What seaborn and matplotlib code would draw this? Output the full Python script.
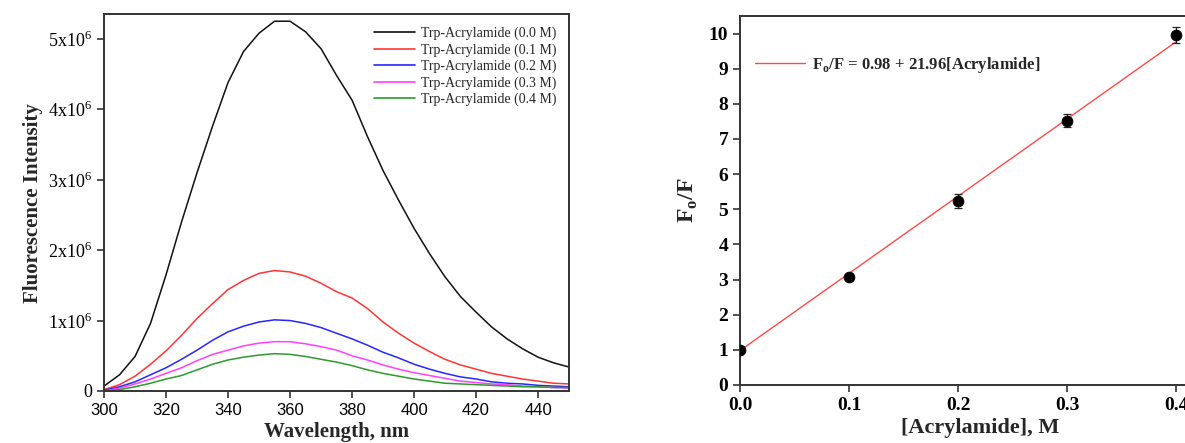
import numpy as np
import pandas as pd
import matplotlib
matplotlib.use('Agg')
import matplotlib.pyplot as plt
import seaborn as sns

sns.set_theme(style='ticks')
plt.rcParams['font.family'] = ['Liberation Serif', 'DejaVu Serif']
plt.rcParams['mathtext.fontset'] = 'custom'
plt.rcParams['mathtext.rm'] = 'Liberation Serif'
plt.rcParams['mathtext.bf'] = 'Liberation Serif:bold'
plt.rcParams['axes.edgecolor'] = '#333333'
plt.rcParams['axes.linewidth'] = 1.4

# spectra, values in units of 1e6
wavelength = [300, 305, 310, 315, 320, 325, 330, 335, 340, 345, 350, 355, 360, 365, 370,
              375, 380, 385, 390, 395, 400, 405, 410, 415, 420, 425, 430, 435, 440, 445, 450]
trp_00 = [0.07, 0.23, 0.49, 0.96, 1.65, 2.40, 3.10, 3.76, 4.38, 4.82, 5.08, 5.25, 5.25, 5.10, 4.86,
          4.48, 4.13, 3.61, 3.13, 2.71, 2.31, 1.95, 1.62, 1.34, 1.12, 0.91, 0.74, 0.60, 0.48, 0.40, 0.34]
trp_01 = [0.02, 0.09, 0.21, 0.38, 0.57, 0.79, 1.03, 1.24, 1.44, 1.57, 1.67, 1.71, 1.69, 1.63, 1.53,
          1.41, 1.32, 1.17, 0.98, 0.82, 0.68, 0.56, 0.45, 0.37, 0.31, 0.25, 0.21, 0.17, 0.14, 0.11, 0.10]
trp_02 = [0.01, 0.06, 0.13, 0.23, 0.33, 0.45, 0.58, 0.72, 0.84, 0.92, 0.98, 1.01, 1.00, 0.96, 0.90,
          0.82, 0.74, 0.65, 0.55, 0.47, 0.38, 0.31, 0.25, 0.20, 0.17, 0.13, 0.11, 0.10, 0.08, 0.07, 0.06]
trp_03 = [0.00, 0.04, 0.10, 0.17, 0.25, 0.33, 0.43, 0.52, 0.58, 0.64, 0.68, 0.70, 0.70, 0.67, 0.63,
          0.58, 0.50, 0.44, 0.37, 0.31, 0.26, 0.22, 0.18, 0.14, 0.12, 0.10, 0.09, 0.07, 0.06, 0.05, 0.04]
trp_04 = [0.00, 0.02, 0.06, 0.11, 0.17, 0.22, 0.30, 0.38, 0.44, 0.48, 0.51, 0.53, 0.52, 0.49, 0.45,
          0.41, 0.36, 0.30, 0.25, 0.21, 0.17, 0.14, 0.11, 0.10, 0.09, 0.08, 0.07, 0.06, 0.06, 0.05, 0.05]
series_names = ['Trp-Acrylamide (0.0 M)', 'Trp-Acrylamide (0.1 M)', 'Trp-Acrylamide (0.2 M)',
                'Trp-Acrylamide (0.3 M)', 'Trp-Acrylamide (0.4 M)']
series_colors = ['#111111', '#ff3535', '#2525ff', '#ff40ff', '#2e9a2e']

# Stern-Volmer data
conc = [0.0, 0.1, 0.2, 0.3, 0.4]
f0_f = [1.0, 3.08, 5.24, 7.52, 9.96]
f0_f_err = [0.04, 0.06, 0.2, 0.18, 0.22]
intercept = 0.98
slope = 21.96

spec = pd.DataFrame({'Wavelength': wavelength * 5,
                     'Intensity': np.array(trp_00 + trp_01 + trp_02 + trp_03 + trp_04) * 1e6,
                     'Sample': np.repeat(series_names, len(wavelength))})

fig = plt.figure(figsize=(11.85, 4.43), dpi=100)
ax1 = fig.add_axes([0.0878, 0.1174, 0.3924, 0.8506])
ax2 = fig.add_axes([0.6245, 0.131, 0.4047, 0.833])

# left: emission spectra
sns.lineplot(data=spec, x='Wavelength', y='Intensity', hue='Sample', hue_order=series_names,
             palette=series_colors, linewidth=1.1, ax=ax1)
ax1.set_xlim(300, 450)
ax1.set_ylim(0, 5.35e6)
ax1.set_xticks([300, 320, 340, 360, 380, 400, 420, 440],
               ['300', '320', '340', '360', '380', '400', '420', '440'],
               fontfamily='Liberation Sans', fontsize=12)
ax1.set_yticks([0, 1e6, 2e6, 3e6, 4e6, 5e6],
               ['0'] + [f'{i}x10$^{{\\mathrm{{6}}}}$' for i in range(1, 6)], fontsize=13)
ax1.set_xlabel('Wavelength, nm', fontsize=15, fontweight='bold', labelpad=3)
ax1.set_ylabel('Fluorescence Intensity', fontsize=15, fontweight='bold', labelpad=4)
ax1.tick_params(direction='out', length=5, width=1.2, colors='#333333', labelcolor='black')
leg = ax1.legend(loc='upper right', frameon=False, fontsize=10, handlelength=3.0,
                 labelspacing=0.22, borderaxespad=0.5, handletextpad=0.4)
for line in leg.get_lines():
    line.set_linewidth(1.2)

# right: Stern-Volmer plot
fit_x = np.array([conc[0], conc[-1]])
ax2.plot(fit_x, intercept + slope * fit_x, color='#ff4a4a', linewidth=1.0,
         label='F$_\\mathbf{o}$/F = 0.98 + 21.96[Acrylamide]', zorder=2)
ax2.errorbar(conc, f0_f, yerr=f0_f_err, fmt='none', ecolor='#222222', elinewidth=0.9,
             capsize=3, capthick=0.9, zorder=3)
sns.scatterplot(x=conc, y=f0_f, color='black', s=60, edgecolor='black', ax=ax2, zorder=4)
ax2.set_xlim(0, 0.44)
ax2.set_ylim(0, 10.5)
ax2.set_xticks([0.0, 0.1, 0.2, 0.3, 0.4], ['0.0', '0.1', '0.2', '0.3', '0.4'],
               fontsize=14, fontweight='bold')
ax2.set_yticks(range(0, 11), [str(i) for i in range(0, 11)], fontsize=14, fontweight='bold')
ax2.set_xlabel('[Acrylamide], M', fontsize=16, fontweight='bold', labelpad=3)
ax2.set_ylabel('F$_\\mathbf{o}$/F', fontsize=17, fontweight='bold', labelpad=6)
ax2.tick_params(direction='out', length=5, width=1.2, colors='#333333', labelcolor='black')
ax2.legend(loc='upper left', frameon=False, prop={'weight': 'bold', 'size': 12},
           handlelength=3.0, handletextpad=0.4, bbox_to_anchor=(0.0, 0.935))

fig.savefig('out.png', dpi=100)
